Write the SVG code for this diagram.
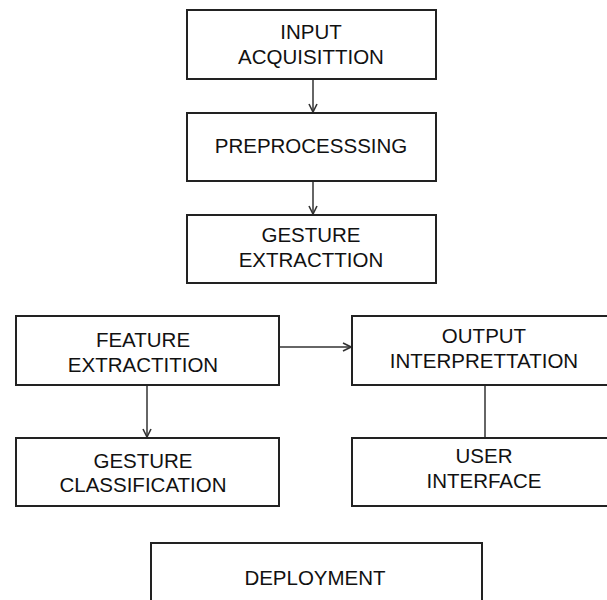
<svg xmlns="http://www.w3.org/2000/svg" width="607" height="600" viewBox="0 0 607 600">
<style>
.box{fill:#fff;stroke:#222;stroke-width:2}
.t{font-family:"Liberation Sans",Arial,sans-serif;font-size:20.5px;fill:#111;text-anchor:middle}
.c{stroke:#333;stroke-width:1.5;fill:none}
</style>
<defs>
<marker id="ah" viewBox="0 0 10 10" refX="9" refY="5" markerWidth="10" markerHeight="10" markerUnits="userSpaceOnUse" orient="auto">
<path d="M1,1 L9,5 L1,9" fill="none" stroke="#333" stroke-width="1.6"/>
</marker>
</defs>
<rect width="607" height="600" fill="#fff"/>
<g id="connectors">
<line class="c" x1="313" y1="79" x2="313" y2="112" marker-end="url(#ah)"/>
<line class="c" x1="313" y1="181" x2="313" y2="214" marker-end="url(#ah)"/>
<line class="c" x1="279" y1="347" x2="351" y2="347" marker-end="url(#ah)"/>
<line class="c" x1="147" y1="385" x2="147" y2="437" marker-end="url(#ah)"/>
<line class="c" x1="485" y1="385" x2="485" y2="438"/>
</g>
<g id="input">
<rect class="box" x="187" y="10" width="249" height="69"/>
<text class="t" x="311" y="39">INPUT</text>
<text class="t" x="311" y="64">ACQUISITTION</text>
</g>
<g id="preprocessing">
<rect class="box" x="187" y="113" width="249" height="68"/>
<text class="t" x="311" y="153">PREPROCESSSING</text>
</g>
<g id="gesture-extraction">
<rect class="box" x="187" y="215" width="249" height="68"/>
<text class="t" x="311" y="242">GESTURE</text>
<text class="t" x="311" y="267">EXTRACTTION</text>
</g>
<g id="feature-extraction">
<rect class="box" x="16" y="316" width="263" height="69"/>
<text class="t" x="143" y="347">FEATURE</text>
<text class="t" x="143" y="372">EXTRACTITION</text>
</g>
<g id="output-interpretation">
<rect class="box" x="352" y="316" width="264" height="69"/>
<text class="t" x="484" y="343">OUTPUT</text>
<text class="t" x="484" y="368">INTERPRETTATION</text>
</g>
<g id="gesture-classification">
<rect class="box" x="16" y="438" width="263" height="68"/>
<text class="t" x="143" y="468">GESTURE</text>
<text class="t" x="143" y="492">CLASSIFICATION</text>
</g>
<g id="user-interface">
<rect class="box" x="352" y="438" width="264" height="68"/>
<text class="t" x="484" y="463">USER</text>
<text class="t" x="484" y="488">INTERFACE</text>
</g>
<g id="deployment">
<rect class="box" x="151" y="543" width="331" height="70"/>
<text class="t" x="315" y="585">DEPLOYMENT</text>
</g>
</svg>
